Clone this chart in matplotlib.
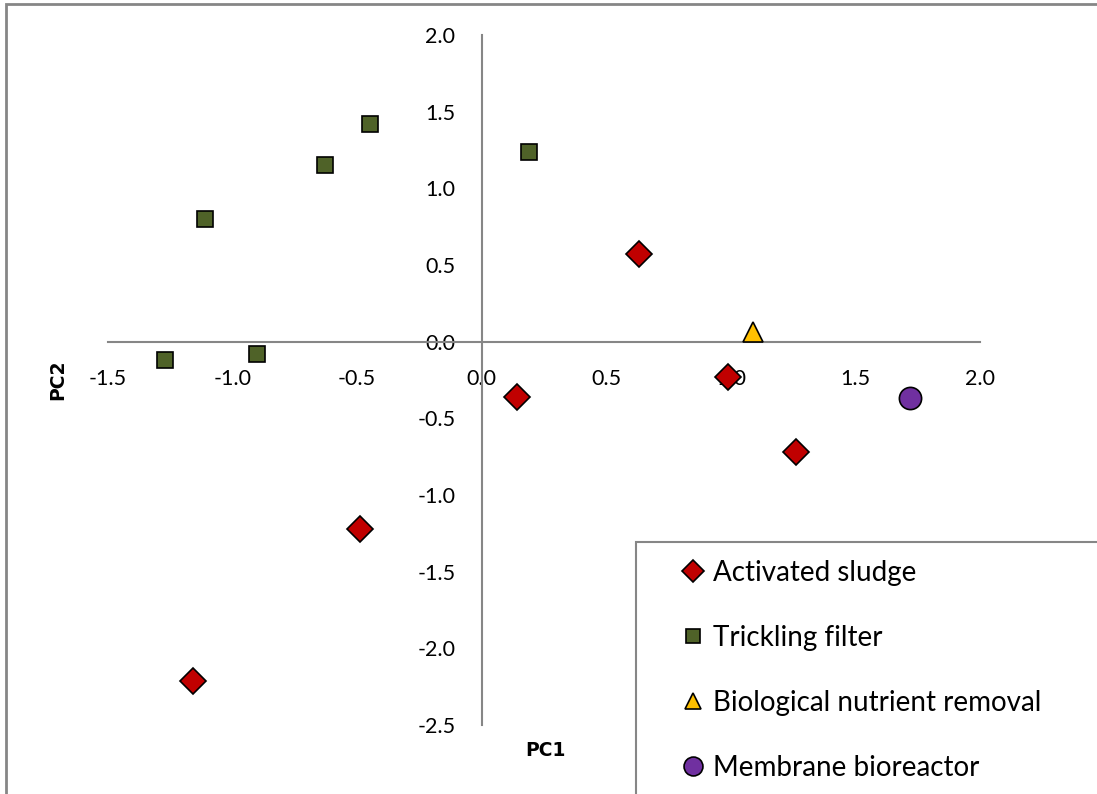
import matplotlib.pyplot as plt
from matplotlib.patches import Rectangle

plt.rcParams['font.family'] = ['Lato', 'DejaVu Sans']

# PCA scores
as_pc1 = [0.63, 0.99, 0.14, 1.26, -0.49, -1.16]
as_pc2 = [0.57, -0.23, -0.36, -0.72, -1.22, -2.21]
tf_pc1 = [-0.45, -0.63, -1.11, 0.19, -1.27, -0.90]
tf_pc2 = [1.42, 1.15, 0.80, 1.24, -0.12, -0.08]
bnr_pc1 = [1.09]
bnr_pc2 = [0.06]
mbr_pc1 = [1.72]
mbr_pc2 = [-0.37]

xticks = [-1.5, -1.0, -0.5, 0.0, 0.5, 1.0, 1.5, 2.0]
yticks = [2.0, 1.5, 1.0, 0.5, 0.0, -0.5, -1.0, -1.5, -2.0, -2.5]

W, H = 1097, 794
fig = plt.figure(figsize=(W / 100, H / 100), dpi=100)
ax = fig.add_axes([108 / W, 1 - 725 / H, 872 / W, 690 / H])

ax.plot(as_pc1, as_pc2, 'D', color='#C00000', mec='black', mew=1.2, ms=13, zorder=5, label='Activated sludge')
ax.plot(tf_pc1, tf_pc2, 's', color='#4F6228', mec='black', mew=1.2, ms=11.5, zorder=5, label='Trickling filter')
ax.plot(bnr_pc1, bnr_pc2, '^', color='#FFC000', mec='black', mew=1.2, ms=14, zorder=5, label='Biological nutrient removal')
ax.plot(mbr_pc1, mbr_pc2, 'o', color='#7030A0', mec='black', mew=1.2, ms=16, zorder=5, label='Membrane bioreactor')

ax.set_xlim(-1.5, 2.0)
ax.set_ylim(-2.5, 2.0)
ax.spines['left'].set_position(('data', 0))
ax.spines['bottom'].set_position(('data', 0))
ax.spines['right'].set_visible(False)
ax.spines['top'].set_visible(False)
for s in ['left', 'bottom']:
    ax.spines[s].set_color('#868686')
    ax.spines[s].set_linewidth(1.5)
ax.set_xticks(xticks)
ax.set_xticklabels(['%.1f' % v for v in xticks])
ax.set_yticks(yticks)
ax.set_yticklabels(['%.1f' % v for v in yticks])
ax.tick_params(axis='x', length=0, pad=20, labelsize=15.5)
ax.tick_params(axis='y', length=0, pad=19, labelsize=15.5)
ax.patch.set_visible(False)

fig.text(58 / W, 1 - 380 / H, 'PC2', rotation=90, fontsize=13.5, fontweight='bold',
         family='DejaVu Sans', ha='center', va='center')
fig.text(545 / W, 1 - 750 / H, 'PC1', fontsize=13.5, fontweight='bold',
         family='DejaVu Sans', ha='center', va='center')

# outer chart border and legend box (both run past the image edge)
fig.patches.append(Rectangle((6 / W, -0.1), 1.2, 1 - 4 / H + 0.1, transform=fig.transFigure,
                             fill=False, ec='#868686', lw=2))
fig.patches.append(Rectangle((636 / W, -0.1), 1.2, 1 - 542 / H + 0.1, transform=fig.transFigure,
                             fill=False, ec='#868686', lw=1.5))
fig.legend(loc='upper left', bbox_to_anchor=(662 / W, 1 - 549 / H), frameon=False,
           fontsize=20, handletextpad=0.05, labelspacing=1.4, handlelength=1.4,
           markerscale=0.85, borderaxespad=0)

fig.savefig('out.png', dpi=100)
